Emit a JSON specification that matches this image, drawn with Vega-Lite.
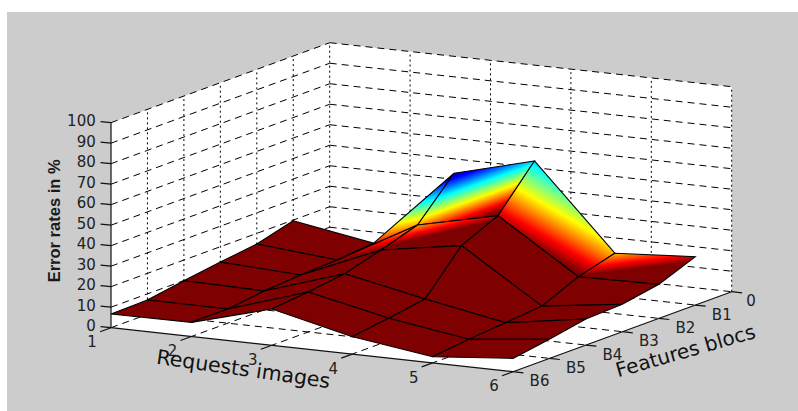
{"$schema":"https://vega.github.io/schema/vega-lite/v6.json","width":791,"height":399,"autosize":"none","padding":{"left":7,"top":12,"right":0,"bottom":0},"background":"#ffffff","config":{"view":{"fill":"#cccccc","stroke":null}},
"data":{"values":[
{"set":"w","id":1,"s":0,"r":1,"b":6,"z":0},{"set":"w","id":1,"s":1,"r":1,"b":0,"z":0},{"set":"w","id":1,"s":2,"r":1,"b":0,"z":100},{"set":"w","id":1,"s":3,"r":1,"b":6,"z":100},
{"set":"w","id":2,"s":0,"r":1,"b":0,"z":0},{"set":"w","id":2,"s":1,"r":6,"b":0,"z":0},{"set":"w","id":2,"s":2,"r":6,"b":0,"z":100},{"set":"w","id":2,"s":3,"r":1,"b":0,"z":100},
{"set":"w","id":3,"s":0,"r":1,"b":6,"z":0},{"set":"w","id":3,"s":1,"r":6,"b":6,"z":0},{"set":"w","id":3,"s":2,"r":6,"b":0,"z":0},{"set":"w","id":3,"s":3,"r":1,"b":0,"z":0},
{"set":"g","k":"dash","r":1,"b":6,"z":0,"r2":1,"b2":0,"z2":0},{"set":"g","k":"dash","r":1,"b":6,"z":10,"r2":1,"b2":0,"z2":10},{"set":"g","k":"dash","r":1,"b":6,"z":20,"r2":1,"b2":0,"z2":20},{"set":"g","k":"dash","r":1,"b":6,"z":30,"r2":1,"b2":0,"z2":30},{"set":"g","k":"dash","r":1,"b":6,"z":40,"r2":1,"b2":0,"z2":40},{"set":"g","k":"dash","r":1,"b":6,"z":50,"r2":1,"b2":0,"z2":50},{"set":"g","k":"dash","r":1,"b":6,"z":60,"r2":1,"b2":0,"z2":60},{"set":"g","k":"dash","r":1,"b":6,"z":70,"r2":1,"b2":0,"z2":70},{"set":"g","k":"dash","r":1,"b":6,"z":80,"r2":1,"b2":0,"z2":80},{"set":"g","k":"dash","r":1,"b":6,"z":90,"r2":1,"b2":0,"z2":90},{"set":"g","k":"dash","r":1,"b":6,"z":100,"r2":1,"b2":0,"z2":100},
{"set":"g","k":"dash","r":1,"b":0,"z":0,"r2":6,"b2":0,"z2":0},{"set":"g","k":"dash","r":1,"b":0,"z":10,"r2":6,"b2":0,"z2":10},{"set":"g","k":"dash","r":1,"b":0,"z":20,"r2":6,"b2":0,"z2":20},{"set":"g","k":"dash","r":1,"b":0,"z":30,"r2":6,"b2":0,"z2":30},{"set":"g","k":"dash","r":1,"b":0,"z":40,"r2":6,"b2":0,"z2":40},{"set":"g","k":"dash","r":1,"b":0,"z":50,"r2":6,"b2":0,"z2":50},{"set":"g","k":"dash","r":1,"b":0,"z":60,"r2":6,"b2":0,"z2":60},{"set":"g","k":"dash","r":1,"b":0,"z":70,"r2":6,"b2":0,"z2":70},{"set":"g","k":"dash","r":1,"b":0,"z":80,"r2":6,"b2":0,"z2":80},{"set":"g","k":"dash","r":1,"b":0,"z":90,"r2":6,"b2":0,"z2":90},{"set":"g","k":"dash","r":1,"b":0,"z":100,"r2":6,"b2":0,"z2":100},
{"set":"g","k":"dash","r":2,"b":0,"z":0,"r2":2,"b2":6,"z2":0},{"set":"g","k":"dash","r":3,"b":0,"z":0,"r2":3,"b2":6,"z2":0},{"set":"g","k":"dash","r":4,"b":0,"z":0,"r2":4,"b2":6,"z2":0},{"set":"g","k":"dash","r":5,"b":0,"z":0,"r2":5,"b2":6,"z2":0},
{"set":"g","k":"dash","r":1,"b":1,"z":0,"r2":6,"b2":1,"z2":0},{"set":"g","k":"dash","r":1,"b":2,"z":0,"r2":6,"b2":2,"z2":0},{"set":"g","k":"dash","r":1,"b":3,"z":0,"r2":6,"b2":3,"z2":0},{"set":"g","k":"dash","r":1,"b":4,"z":0,"r2":6,"b2":4,"z2":0},{"set":"g","k":"dash","r":1,"b":5,"z":0,"r2":6,"b2":5,"z2":0},
{"set":"g","k":"dot","r":1,"b":0,"z":0,"r2":1,"b2":0,"z2":100},{"set":"g","k":"dot","r":1,"b":1,"z":0,"r2":1,"b2":1,"z2":100},{"set":"g","k":"dot","r":1,"b":2,"z":0,"r2":1,"b2":2,"z2":100},{"set":"g","k":"dot","r":1,"b":3,"z":0,"r2":1,"b2":3,"z2":100},{"set":"g","k":"dot","r":1,"b":4,"z":0,"r2":1,"b2":4,"z2":100},{"set":"g","k":"dot","r":1,"b":5,"z":0,"r2":1,"b2":5,"z2":100},
{"set":"g","k":"dot","r":2,"b":0,"z":0,"r2":2,"b2":0,"z2":100},{"set":"g","k":"dot","r":3,"b":0,"z":0,"r2":3,"b2":0,"z2":100},{"set":"g","k":"dot","r":4,"b":0,"z":0,"r2":4,"b2":0,"z2":100},{"set":"g","k":"dot","r":5,"b":0,"z":0,"r2":5,"b2":0,"z2":100},{"set":"g","k":"dot","r":6,"b":0,"z":0,"r2":6,"b2":0,"z2":100},
{"set":"g","k":"solid","r":1,"b":6,"z":0,"r2":1,"b2":6,"z2":100},{"set":"g","k":"solid","r":1,"b":6,"z":0,"r2":6,"b2":6,"z2":0},{"set":"g","k":"solid","r":6,"b":6,"z":0,"r2":6,"b2":0,"z2":0},
{"set":"g","k":"solid","r":1,"b":6,"z":0,"r2":0.87,"b2":6,"z2":0},{"set":"g","k":"solid","r":1,"b":6,"z":10,"r2":0.87,"b2":6,"z2":10},{"set":"g","k":"solid","r":1,"b":6,"z":20,"r2":0.87,"b2":6,"z2":20},{"set":"g","k":"solid","r":1,"b":6,"z":30,"r2":0.87,"b2":6,"z2":30},{"set":"g","k":"solid","r":1,"b":6,"z":40,"r2":0.87,"b2":6,"z2":40},{"set":"g","k":"solid","r":1,"b":6,"z":50,"r2":0.87,"b2":6,"z2":50},{"set":"g","k":"solid","r":1,"b":6,"z":60,"r2":0.87,"b2":6,"z2":60},{"set":"g","k":"solid","r":1,"b":6,"z":70,"r2":0.87,"b2":6,"z2":70},{"set":"g","k":"solid","r":1,"b":6,"z":80,"r2":0.87,"b2":6,"z2":80},{"set":"g","k":"solid","r":1,"b":6,"z":90,"r2":0.87,"b2":6,"z2":90},{"set":"g","k":"solid","r":1,"b":6,"z":100,"r2":0.87,"b2":6,"z2":100},
{"set":"g","k":"solid","r":1,"b":6,"z":0,"r2":1,"b2":6.3,"z2":0},{"set":"g","k":"solid","r":2,"b":6,"z":0,"r2":2,"b2":6.3,"z2":0},{"set":"g","k":"solid","r":3,"b":6,"z":0,"r2":3,"b2":6.3,"z2":0},{"set":"g","k":"solid","r":4,"b":6,"z":0,"r2":4,"b2":6.3,"z2":0},{"set":"g","k":"solid","r":5,"b":6,"z":0,"r2":5,"b2":6.3,"z2":0},{"set":"g","k":"solid","r":6,"b":6,"z":0,"r2":6,"b2":6.3,"z2":0},
{"set":"g","k":"solid","r":6,"b":0,"z":0,"r2":6.13,"b2":0,"z2":0},{"set":"g","k":"solid","r":6,"b":1,"z":0,"r2":6.13,"b2":1,"z2":0},{"set":"g","k":"solid","r":6,"b":2,"z":0,"r2":6.13,"b2":2,"z2":0},{"set":"g","k":"solid","r":6,"b":3,"z":0,"r2":6.13,"b2":3,"z2":0},{"set":"g","k":"solid","r":6,"b":4,"z":0,"r2":6.13,"b2":4,"z2":0},{"set":"g","k":"solid","r":6,"b":5,"z":0,"r2":6.13,"b2":5,"z2":0},{"set":"g","k":"solid","r":6,"b":6,"z":0,"r2":6.13,"b2":6,"z2":0},
{"set":"v","r":1,"b":1,"z":19.7},{"set":"v","r":2,"b":1,"z":13},{"set":"v","r":3,"b":1,"z":51.4},{"set":"v","r":4,"b":1,"z":61.7},{"set":"v","r":5,"b":1,"z":21},{"set":"v","r":6,"b":1,"z":23.6},
{"set":"v","r":1,"b":2,"z":14.8},{"set":"v","r":2,"b":2,"z":11.3},{"set":"v","r":3,"b":2,"z":32.7},{"set":"v","r":4,"b":2,"z":41.5},{"set":"v","r":5,"b":2,"z":16},{"set":"v","r":6,"b":2,"z":16.6},
{"set":"v","r":1,"b":3,"z":12.5},{"set":"v","r":2,"b":3,"z":10.5},{"set":"v","r":3,"b":3,"z":27},{"set":"v","r":4,"b":3,"z":33.4},{"set":"v","r":5,"b":3,"z":8.2},{"set":"v","r":6,"b":3,"z":13.4},
{"set":"v","r":1,"b":4,"z":9.9},{"set":"v","r":2,"b":4,"z":9.2},{"set":"v","r":3,"b":4,"z":21.9},{"set":"v","r":4,"b":4,"z":13.9},{"set":"v","r":5,"b":4,"z":6.6},{"set":"v","r":6,"b":4,"z":12.7},
{"set":"v","r":1,"b":5,"z":7},{"set":"v","r":2,"b":5,"z":6.9},{"set":"v","r":3,"b":5,"z":19.5},{"set":"v","r":4,"b":5,"z":11},{"set":"v","r":5,"b":5,"z":5},{"set":"v","r":6,"b":5,"z":9.3},
{"set":"v","r":1,"b":6,"z":6.7},{"set":"v","r":2,"b":6,"z":6.9},{"set":"v","r":3,"b":6,"z":17.7},{"set":"v","r":4,"b":6,"z":8.5},{"set":"v","r":5,"b":6,"z":3},{"set":"v","r":6,"b":6,"z":6.5},
{"set":"zl","r":0.81,"b":6,"z":0,"t":"0"},{"set":"zl","r":0.81,"b":6,"z":10,"t":"10"},{"set":"zl","r":0.81,"b":6,"z":20,"t":"20"},{"set":"zl","r":0.81,"b":6,"z":30,"t":"30"},{"set":"zl","r":0.81,"b":6,"z":40,"t":"40"},{"set":"zl","r":0.81,"b":6,"z":50,"t":"50"},{"set":"zl","r":0.81,"b":6,"z":60,"t":"60"},{"set":"zl","r":0.81,"b":6,"z":70,"t":"70"},{"set":"zl","r":0.81,"b":6,"z":80,"t":"80"},{"set":"zl","r":0.81,"b":6,"z":90,"t":"90"},{"set":"zl","r":0.81,"b":6,"z":100,"t":"100"},
{"set":"l","r":1,"b":6.52,"z":-3.8,"t":"1"},{"set":"l","r":2,"b":6.52,"z":-3.8,"t":"2"},{"set":"l","r":3,"b":6.52,"z":-3.8,"t":"3"},{"set":"l","r":4,"b":6.52,"z":-3.8,"t":"4"},{"set":"l","r":5,"b":6.52,"z":-3.8,"t":"5"},{"set":"l","r":6,"b":6.52,"z":-3.8,"t":"6"},
{"set":"l","r":6.24,"b":0,"z":-3.5,"t":"0"},{"set":"l","r":6.33,"b":1,"z":-3.3,"t":"B1"},{"set":"l","r":6.33,"b":2,"z":-3.3,"t":"B2"},{"set":"l","r":6.33,"b":3,"z":-3.3,"t":"B3"},{"set":"l","r":6.33,"b":4,"z":-3.3,"t":"B4"},{"set":"l","r":6.33,"b":5,"z":-3.3,"t":"B5"},{"set":"l","r":6.33,"b":6,"z":-3.3,"t":"B6"},
{"set":"tz","r":0.3,"b":6,"z":49.1,"t":"Error rates in %"},{"set":"tr","r":3.374,"b":7.606,"z":0,"t":"Requests images"},{"set":"tb","r":7.13,"b":3.754,"z":0,"t":"Features blocs"}
]},
"transform":[
{"calculate":"datum.set==='v'?[0,1,2,3,4]:[0]","as":"c"},
{"flatten":["c"]},
{"calculate":"datum.r-((datum.c===1||datum.c===2)?1:0)","as":"fr"},
{"calculate":"datum.b-((datum.c===2||datum.c===3)?1:0)","as":"fb"},
{"filter":"datum.set!=='v'||(datum.fr>=1&&datum.fr<=5&&datum.fb>=1&&datum.fb<=5)"},
{"calculate":"datum.set==='v'?datum.fr*10+datum.fb:0","as":"face"},
{"calculate":"111+80.4*(datum.r-1)+36.45*(6-datum.b)","as":"px"},
{"calculate":"327.7+8.8*(datum.r-1)-13.33*(6-datum.b)-2.05*datum.z","as":"py"},
{"calculate":"111+80.4*(datum.r2-1)+36.45*(6-datum.b2)","as":"px2"},
{"calculate":"327.7+8.8*(datum.r2-1)-13.33*(6-datum.b2)-2.05*datum.z2","as":"py2"}
],
"encoding":{"x":{"field":"px","type":"quantitative","axis":null,"scale":{"domain":[7,798],"nice":false,"zero":false}},"y":{"field":"py","type":"quantitative","axis":null,"scale":{"domain":[411,12],"nice":false,"zero":false}}},
"layer":[
{"transform":[{"filter":"datum.set==='w'"}],"mark":{"type":"line","fill":"#ffffff","stroke":null,"strokeWidth":0},"encoding":{"detail":{"field":"id"},"order":{"field":"s","type":"quantitative"}}},
{"transform":[{"filter":"datum.k==='dash'"}],"mark":{"type":"rule","color":"#000000","strokeWidth":1,"strokeDash":[7,5]},"encoding":{"x2":{"field":"px2"},"y2":{"field":"py2"}}},
{"transform":[{"filter":"datum.k==='dot'"}],"mark":{"type":"rule","color":"#000000","strokeWidth":1,"strokeDash":[2,3]},"encoding":{"x2":{"field":"px2"},"y2":{"field":"py2"}}},
{"transform":[{"filter":"datum.k==='solid'"}],"mark":{"type":"rule","color":"#111111","strokeWidth":1.2},"encoding":{"x2":{"field":"px2"},"y2":{"field":"py2"}}},
{"transform":[{"filter":"datum.face===11"}],"mark":{"type":"line","fill":"#7f0000","stroke":"#000000","strokeWidth":1.1},"encoding":{"detail":{"field":"face"},"order":{"field":"c","type":"quantitative"}}},
{"transform":[{"filter":"datum.face===21"}],"mark":{"type":"line","stroke":"#000000","strokeWidth":1.1,"fill":{"gradient":"linear","x1":0.994,"y1":-0.021,"x2":1.186,"y2":0.671,"stops":[{"offset":0,"color":"#00008f"},{"offset":0.125,"color":"#0000ff"},{"offset":0.375,"color":"#00ffff"},{"offset":0.625,"color":"#ffff00"},{"offset":0.875,"color":"#ff0000"},{"offset":1,"color":"#7f0000"}]}},"encoding":{"detail":{"field":"face"},"order":{"field":"c","type":"quantitative"}}},
{"transform":[{"filter":"datum.face===31"}],"mark":{"type":"line","stroke":"#000000","strokeWidth":1.1,"fill":{"gradient":"linear","x1":0.298,"y1":0.172,"x2":0.701,"y2":0.785,"stops":[{"offset":0,"color":"#00008f"},{"offset":0.125,"color":"#0000ff"},{"offset":0.375,"color":"#00ffff"},{"offset":0.625,"color":"#ffff00"},{"offset":0.875,"color":"#ff0000"},{"offset":1,"color":"#7f0000"}]}},"encoding":{"detail":{"field":"face"},"order":{"field":"c","type":"quantitative"}}},
{"transform":[{"filter":"datum.face===41"}],"mark":{"type":"line","stroke":"#000000","strokeWidth":1.1,"fill":{"gradient":"linear","x1":0.475,"y1":-0.269,"x2":-0.007,"y2":0.547,"stops":[{"offset":0,"color":"#00008f"},{"offset":0.125,"color":"#0000ff"},{"offset":0.375,"color":"#00ffff"},{"offset":0.625,"color":"#ffff00"},{"offset":0.875,"color":"#ff0000"},{"offset":1,"color":"#7f0000"}]}},"encoding":{"detail":{"field":"face"},"order":{"field":"c","type":"quantitative"}}},
{"transform":[{"filter":"datum.face===51"}],"mark":{"type":"line","stroke":"#000000","strokeWidth":1.1,"fill":{"gradient":"linear","x1":-0.209,"y1":-1.122,"x2":0.538,"y2":0.481,"stops":[{"offset":0,"color":"#00008f"},{"offset":0.125,"color":"#0000ff"},{"offset":0.375,"color":"#00ffff"},{"offset":0.625,"color":"#ffff00"},{"offset":0.875,"color":"#ff0000"},{"offset":1,"color":"#7f0000"}]}},"encoding":{"detail":{"field":"face"},"order":{"field":"c","type":"quantitative"}}},
{"transform":[{"filter":"datum.face===12"}],"mark":{"type":"line","fill":"#7f0000","stroke":"#000000","strokeWidth":1.1},"encoding":{"detail":{"field":"face"},"order":{"field":"c","type":"quantitative"}}},
{"transform":[{"filter":"datum.face===22"}],"mark":{"type":"line","stroke":"#000000","strokeWidth":1.1,"fill":{"gradient":"linear","x1":0.645,"y1":-0.667,"x2":1.138,"y2":0.259,"stops":[{"offset":0,"color":"#00008f"},{"offset":0.125,"color":"#0000ff"},{"offset":0.375,"color":"#00ffff"},{"offset":0.625,"color":"#ffff00"},{"offset":0.875,"color":"#ff0000"},{"offset":1,"color":"#7f0000"}]}},"encoding":{"detail":{"field":"face"},"order":{"field":"c","type":"quantitative"}}},
{"transform":[{"filter":"datum.face===32"}],"mark":{"type":"line","stroke":"#000000","strokeWidth":1.1,"fill":{"gradient":"linear","x1":0.344,"y1":-0.791,"x2":1.049,"y2":0.06,"stops":[{"offset":0,"color":"#00008f"},{"offset":0.125,"color":"#0000ff"},{"offset":0.375,"color":"#00ffff"},{"offset":0.625,"color":"#ffff00"},{"offset":0.875,"color":"#ff0000"},{"offset":1,"color":"#7f0000"}]}},"encoding":{"detail":{"field":"face"},"order":{"field":"c","type":"quantitative"}}},
{"transform":[{"filter":"datum.set==='v'&&(datum.fb>=3||(datum.fb===2&&datum.fr>=4))"}],"mark":{"type":"line","fill":"#7f0000","stroke":"#000000","strokeWidth":1.1},"encoding":{"detail":{"field":"face"},"order":{"field":"c","type":"quantitative"}}},
{"transform":[{"filter":"datum.set==='zl'"}],"mark":{"type":"text","font":"DejaVu Sans","fontSize":15,"align":"right","baseline":"middle","color":"#222222"},"encoding":{"text":{"field":"t"}}},
{"transform":[{"filter":"datum.set==='l'"}],"mark":{"type":"text","font":"DejaVu Sans","fontSize":15,"align":"center","baseline":"middle","color":"#222222"},"encoding":{"text":{"field":"t"}}},
{"transform":[{"filter":"datum.set==='tz'"}],"mark":{"type":"text","font":"Liberation Sans","fontSize":16.5,"fontWeight":"bold","angle":270,"align":"center","baseline":"middle","color":"#1a1a1a"},"encoding":{"text":{"field":"t"}}},
{"transform":[{"filter":"datum.set==='tr'"}],"mark":{"type":"text","font":"DejaVu Sans","fontSize":20.5,"angle":8,"align":"center","baseline":"middle","color":"#111111"},"encoding":{"text":{"field":"t"}}},
{"transform":[{"filter":"datum.set==='tb'"}],"mark":{"type":"text","font":"DejaVu Sans","fontSize":20,"angle":344,"align":"center","baseline":"middle","color":"#111111"},"encoding":{"text":{"field":"t"}}}
]}
